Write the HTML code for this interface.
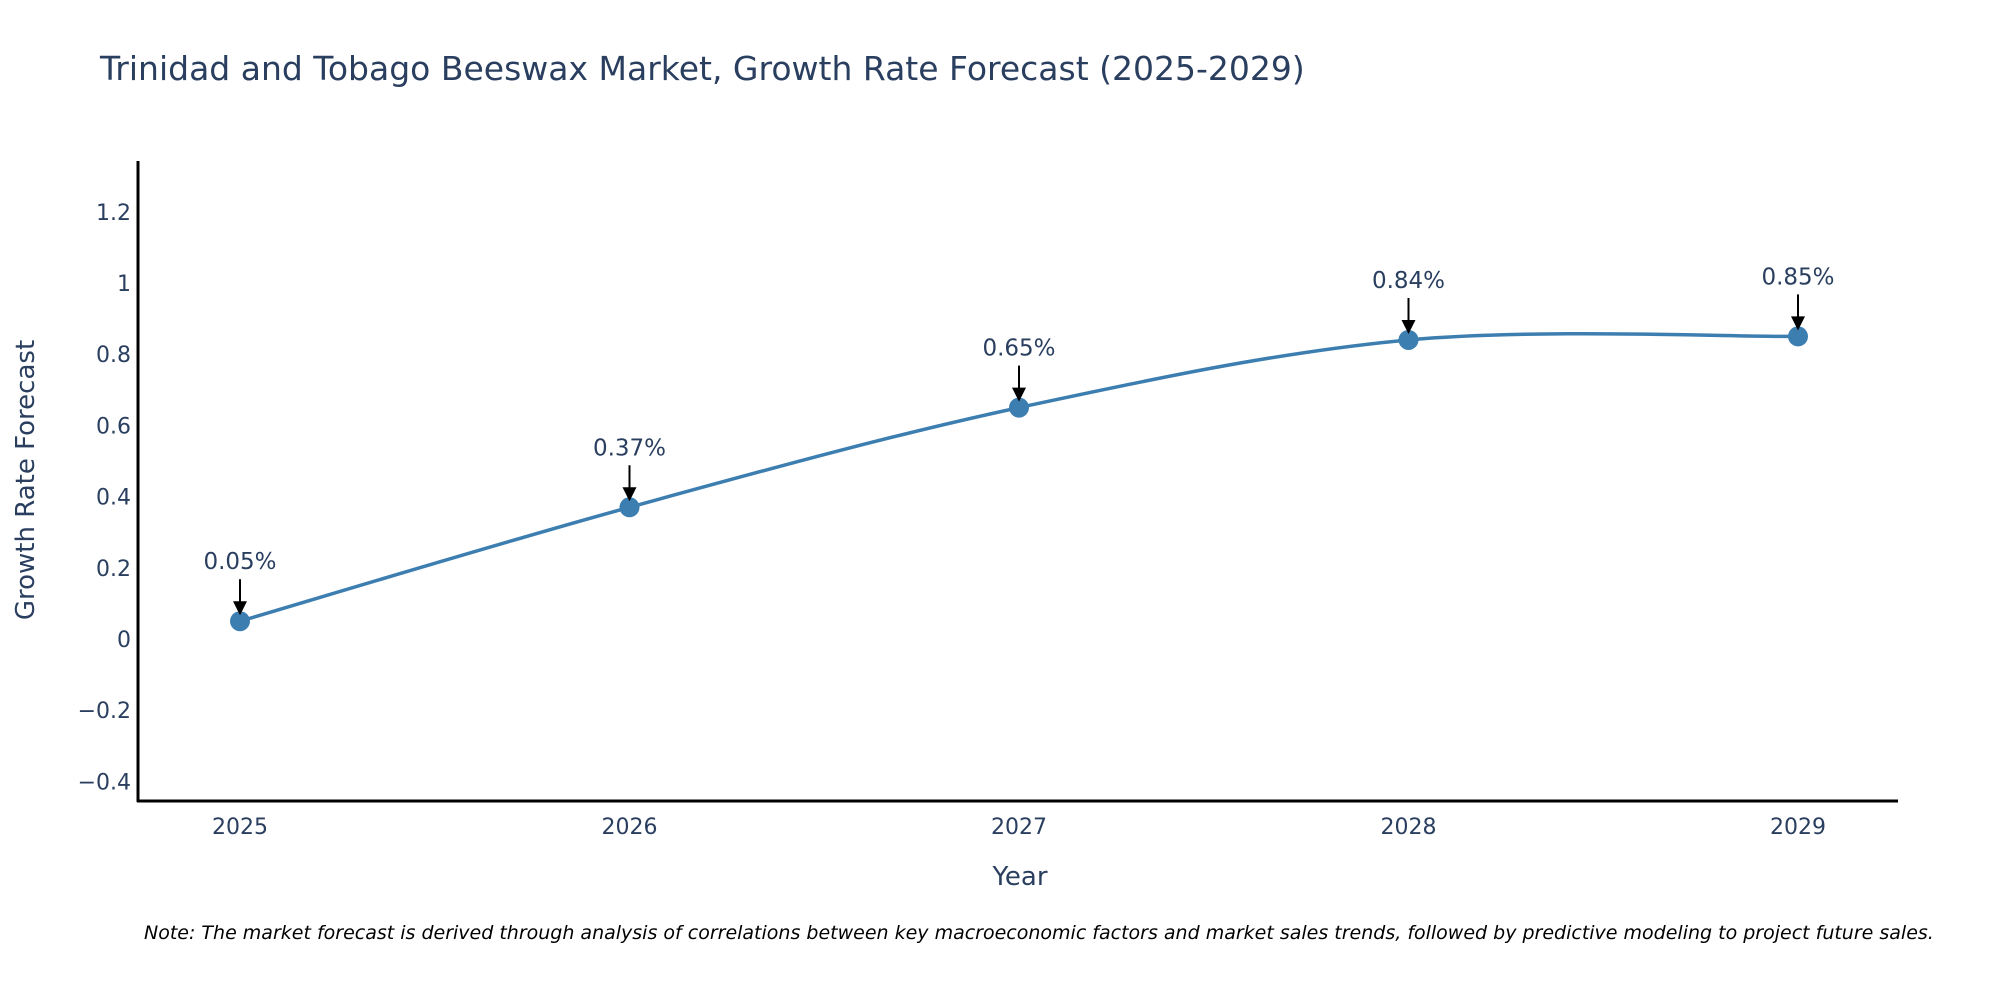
<!DOCTYPE html>
<html><head><meta charset="utf-8">
<style>
body{margin:0;background:#fff;overflow:hidden;}
svg{display:block;font-family:"DejaVu Sans","Liberation Sans",sans-serif;}
</style></head>
<body>
<svg id="chart" width="2000" height="1000" viewBox="0 0 2000 1000">
<text x="100" y="80" font-size="33" fill="#2a3f5f">Trinidad and Tobago Beeswax Market, Growth Rate Forecast (2025-2029)</text>
<g id="yticks"></g>
<g id="xticks"></g>
<line x1="138" y1="161" x2="138" y2="802" stroke="#000" stroke-width="3"/>
<line x1="137" y1="801" x2="1898" y2="801" stroke="#000" stroke-width="3"/>
<text transform="translate(34,480) rotate(-90)" text-anchor="middle" font-size="26" fill="#2a3f5f">Growth Rate Forecast</text>
<text x="1020" y="885" text-anchor="middle" font-size="26" fill="#2a3f5f">Year</text>
<g id="series"></g>
<g id="annots"></g>
<text x="144" y="939" font-size="19" font-style="italic" fill="#000">Note: The market forecast is derived through analysis of correlations between key macroeconomic factors and market sales trends, followed by predictive modeling to project future sales.</text>
</svg>
<script>
const years = [2025, 2026, 2027, 2028, 2029];
const growth = [0.05, 0.37, 0.65, 0.84, 0.85];
const labels = ["0.05%", "0.37%", "0.65%", "0.84%", "0.85%"];
const yTickValues = [-0.4, -0.2, 0, 0.2, 0.4, 0.6, 0.8, 1, 1.2];
const yTickLabels = ["\u22120.4", "\u22120.2", "0", "0.2", "0.4", "0.6", "0.8", "1", "1.2"];

const NS = "http://www.w3.org/2000/svg";
function xS(v){ return 240 + (v - 2025) * 389.5; }
function yS(v){ return 639 - v * 356; }
function mk(tag, attrs, parent){ const e = document.createElementNS(NS, tag); for (const k in attrs) e.setAttribute(k, attrs[k]); parent.appendChild(e); return e; }

const yt = document.getElementById('yticks');
yTickValues.forEach((v, i) => {
  const t = mk('text', {x: 131, y: yS(v) + 8, 'text-anchor': 'end', 'font-size': 22, fill: '#2a3f5f'}, yt);
  
  
  t.textContent = yTickLabels[i];
});
const xt = document.getElementById('xticks');
years.forEach(y => {
  const t = mk('text', {x: xS(y), y: 834, 'text-anchor': 'middle', 'font-size': 22, fill: '#2a3f5f'}, xt);
  
  
  t.textContent = String(y);
});

const pts = years.map((y, i) => [xS(y), yS(growth[i])]);
let d = `M${pts[0][0]},${pts[0][1]}`;
for (let i = 0; i < pts.length - 1; i++) {
  const p0 = pts[Math.max(0, i - 1)], p1 = pts[i], p2 = pts[i + 1], p3 = pts[Math.min(pts.length - 1, i + 2)];
  const c1 = [p1[0] + (p2[0] - p0[0]) / 6, p1[1] + (p2[1] - p0[1]) / 6];
  const c2 = [p2[0] - (p3[0] - p1[0]) / 6, p2[1] - (p3[1] - p1[1]) / 6];
  d += ` C${c1[0]},${c1[1]} ${c2[0]},${c2[1]} ${p2[0]},${p2[1]}`;
}
const series = document.getElementById('series');
const line = mk('path', {d: d, fill: 'none', stroke: '#3d7eb1', 'stroke-width': 3.5}, series);


pts.forEach(p => {
  const c = mk('circle', {cx: p[0], cy: p[1], r: 10, fill: '#3d7eb1'}, series);
  
  
});

const an = document.getElementById('annots');
pts.forEach((p, i) => {
  const top = p[1] - 42;
  const l = mk('line', {x1: p[0], y1: top, x2: p[0], y2: p[1] - 16, stroke: '#000', 'stroke-width': 2}, an);
  
  
  const h = mk('polygon', {points: `${p[0]-7},${p[1]-20} ${p[0]+7},${p[1]-20} ${p[0]},${p[1]-6}`, fill: '#000'}, an);
  
  
  const t = mk('text', {x: p[0], y: top - 10, 'text-anchor': 'middle', 'font-size': 23, fill: '#2a3f5f'}, an);
  
  
  t.textContent = labels[i];
});
</script>
</body></html>
